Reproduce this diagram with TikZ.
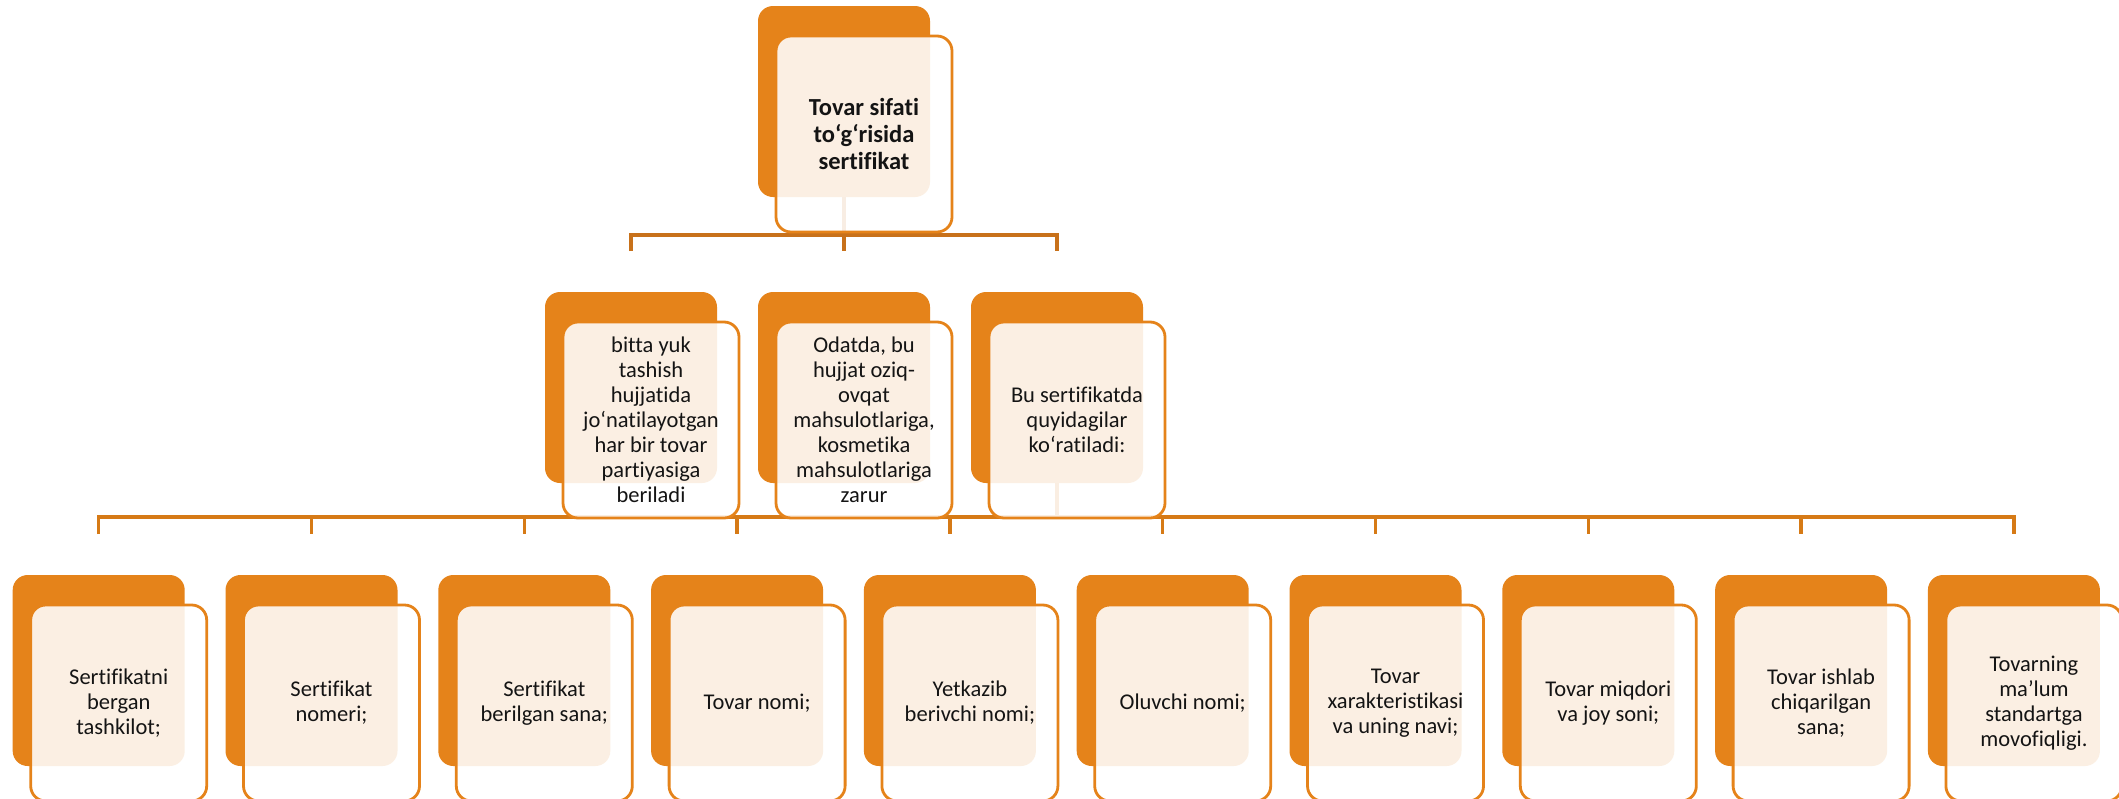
\documentclass[tikz,border=0pt]{standalone}
\usepackage{fontspec}
\setmainfont{Carlito}[RawFeature={-liga;-clig;-dlig}]
\usetikzlibrary{backgrounds}
\definecolor{boxorange}{HTML}{E5831A}
\definecolor{lineorange}{HTML}{C8711A}
\definecolor{linebottom}{HTML}{D67A16}
\definecolor{txt}{HTML}{141414}
\tikzset{
 backbox/.style={rectangle, rounded corners=15pt, fill=boxorange, draw=none,
   minimum width=172pt, minimum height=191pt, anchor=north west, inner sep=0pt, outer sep=0pt},
 frontbox/.style={rectangle, rounded corners=15pt, fill=white, fill opacity=0.88, text opacity=1,
   draw=boxorange, line width=2.8pt, minimum width=176pt, minimum height=196pt,
   anchor=north west, align=center, inner sep=0pt, outer sep=0pt, text=txt,
   font=\fontsize{22.5}{25}\selectfont},
 topfont/.style={font=\bfseries\fontsize{24.5}{27}\selectfont},
 conn/.style={draw=lineorange, line width=3.5pt, line join=miter},
 connb/.style={draw=linebottom, line width=3.5pt, line join=miter},
}
\begin{document}
\begin{tikzpicture}[x=1pt,y=-1pt]
\useasboundingbox (0,0) rectangle (2119,798);
% top
\node[backbox] (topB) at (758,6) {};
\node[frontbox, topfont] (topF) at (776,36) {Tovar sifati\\to‘g‘risida\\sertifikat};
% middle row
\node[backbox] (mB1) at (545,292) {};
\node[frontbox] (mF1) at (563,322) {bitta yuk\\tashish\\hujjatida\\jo‘natilayotgan\\har bir tovar\\partiyasiga\\beriladi};
\node[backbox] (mB2) at (758,292) {};
\node[frontbox] (mF2) at (776,322) {Odatda, bu\\hujjat oziq-\\ovqat\\mahsulotlariga,\\kosmetika\\mahsulotlariga\\zarur};
\node[backbox] (mB3) at (971,292) {};
\node[frontbox] (mF3) at (989,322) {Bu sertifikatda\\quyidagilar\\ko‘ratiladi:};
% bottom row
\node[backbox] (bB1) at (12.7,575) {};
\node[frontbox] (bF1) at (30.7,605) {Sertifikatni\\bergan\\tashkilot;};
\node[backbox] (bB2) at (225.5,575) {};
\node[frontbox] (bF2) at (243.5,605) {Sertifikat\\nomeri;};
\node[backbox] (bB3) at (438.3,575) {};
\node[frontbox] (bF3) at (456.3,605) {Sertifikat\\berilgan sana;};
\node[backbox] (bB4) at (651.1,575) {};
\node[frontbox] (bF4) at (669.1,605) {Tovar nomi;};
\node[backbox] (bB5) at (863.9,575) {};
\node[frontbox] (bF5) at (881.9,605) {Yetkazib\\berivchi nomi;};
\node[backbox] (bB6) at (1076.7,575) {};
\node[frontbox] (bF6) at (1094.7,605) {Oluvchi nomi;};
\node[backbox] (bB7) at (1289.5,575) {};
\node[frontbox] (bF7) at (1307.5,605) {Tovar\\xarakteristikasi\\va uning navi;};
\node[backbox] (bB8) at (1502.3,575) {};
\node[frontbox] (bF8) at (1520.3,605) {Tovar miqdori\\va joy soni;};
\node[backbox] (bB9) at (1715.1,575) {};
\node[frontbox] (bF9) at (1733.1,605) {Tovar ishlab\\chiqarilgan\\sana;};
\node[backbox] (bB10) at (1927.9,575) {};
\node[frontbox] (bF10) at (1945.9,605) {Tovarning\\ma’lum\\standartga\\movofiqligi.};
% connectors
\begin{pgfonlayer}{background}
\fill[white] (0,0) rectangle (2119,798);
\coordinate (barT) at (844,235);
\coordinate (barB) at (1057,517);
\draw[conn] (topB.south) -- (topB.south |- barT);
\draw[conn] ([yshift=-16pt]mB1.north |- barT) -- (mB1.north |- barT) -- (mB3.north |- barT) -- ([yshift=-16pt]mB3.north |- barT);
\draw[conn] (mB2.north |- barT) -- ([yshift=-16pt]mB2.north |- barT);
\draw[connb] (mB3.south) -- (mB3.south |- barB);
\draw[connb] ([yshift=-17pt]bB1.north |- barB) -- (bB1.north |- barB) -- (bB10.north |- barB) -- ([yshift=-17pt]bB10.north |- barB);
\foreach \i in {2,...,9}{
  \draw[connb] (bB\i.north |- barB) -- ([yshift=-17pt]bB\i.north |- barB);
}
\end{pgfonlayer}
\end{tikzpicture}
\end{document}
